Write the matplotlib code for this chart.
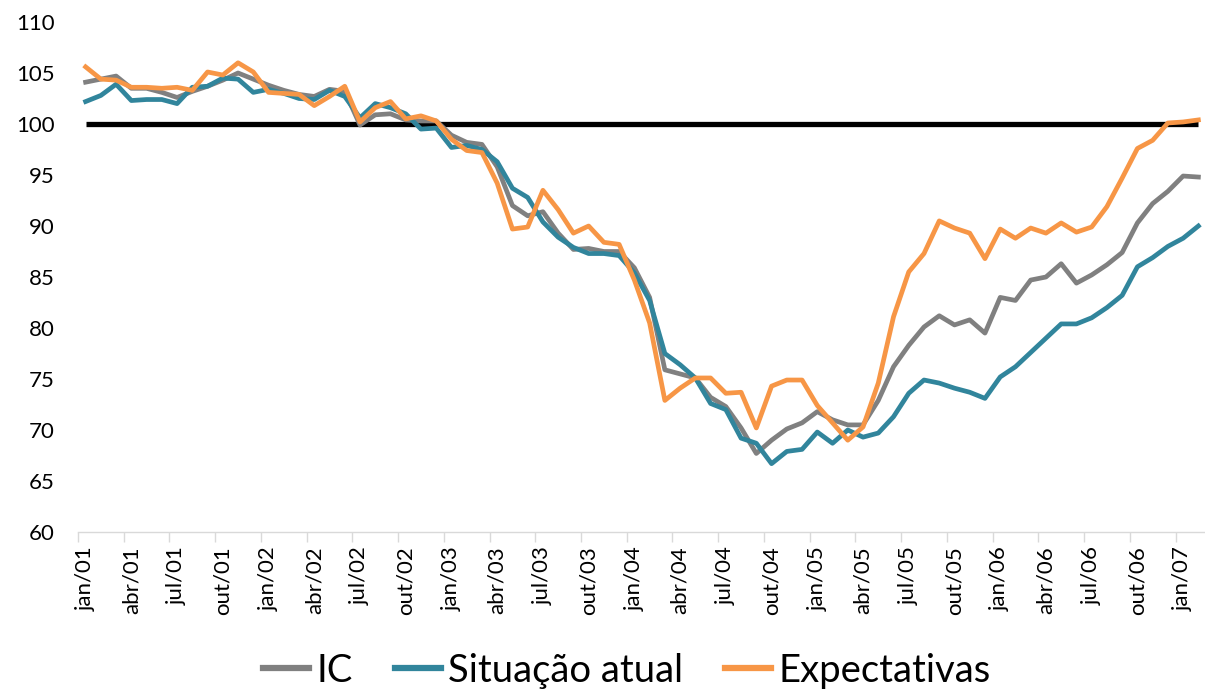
import matplotlib
matplotlib.use("Agg")
import matplotlib.pyplot as plt
from matplotlib.lines import Line2D

months = ["jan", "fev", "mar", "abr", "mai", "jun", "jul", "ago", "set", "out", "nov", "dez"]
categories = [f"{months[i % 12]}/{(1 + i // 12):02d}" for i in range(74)]

ic = [104.1, 104.4, 104.7, 103.5, 103.5, 103.1, 102.6, 103.2, 103.7, 104.3, 105.0, 104.4,
      103.8, 103.3, 102.9, 102.7, 103.4, 103.2, 99.9, 100.9, 101.0, 100.4, 100.3, 100.3,
      98.9, 98.2, 98.0, 95.8, 92.0, 91.0, 91.4, 89.3, 87.7, 87.8, 87.5, 87.5,
      85.9, 83.0, 75.9, 75.5, 75.1, 73.2, 72.3, 70.2, 67.7, 69.0, 70.1, 70.7,
      71.8, 71.0, 70.5, 70.5, 72.9, 76.2, 78.3, 80.1, 81.2, 80.3, 80.8, 79.5,
      83.0, 82.7, 84.7, 85.0, 86.3, 84.4, 85.2, 86.2, 87.4, 90.3, 92.2, 93.4,
      94.9, 94.8]
situacao = [102.2, 102.8, 103.9, 102.3, 102.4, 102.4, 102.0, 103.6, 103.7, 104.5, 104.4, 103.1,
            103.4, 103.0, 102.5, 102.4, 103.3, 102.7, 100.6, 102.0, 101.6, 101.0, 99.5, 99.6,
            97.7, 97.9, 97.5, 96.3, 93.7, 92.8, 90.4, 88.9, 87.9, 87.3, 87.3, 87.1,
            85.4, 82.7, 77.5, 76.4, 75.1, 72.6, 72.0, 69.2, 68.7, 66.7, 67.9, 68.1,
            69.8, 68.7, 70.0, 69.3, 69.7, 71.3, 73.6, 74.9, 74.6, 74.1, 73.7, 73.1,
            75.2, 76.2, 77.6, 79.0, 80.4, 80.4, 81.0, 82.0, 83.2, 86.0, 86.9, 88.0,
            88.8, 90.0]
expectativas = [105.6, 104.4, 104.3, 103.6, 103.6, 103.5, 103.6, 103.3, 105.1, 104.8, 106.0, 105.1,
                103.1, 103.0, 102.9, 101.8, 102.7, 103.7, 100.2, 101.6, 102.2, 100.5, 100.8, 100.3,
                98.5, 97.4, 97.2, 94.2, 89.7, 89.9, 93.5, 91.6, 89.3, 90.0, 88.4, 88.2,
                84.7, 80.5, 72.9, 74.1, 75.1, 75.1, 73.6, 73.7, 70.2, 74.3, 74.9, 74.9,
                72.4, 70.7, 69.0, 70.3, 74.6, 81.1, 85.5, 87.3, 90.5, 89.8, 89.3, 86.8,
                89.7, 88.8, 89.8, 89.3, 90.3, 89.4, 89.9, 91.9, 94.7, 97.6, 98.4, 100.1,
                100.2, 100.4]
referencia = [100.0] * 74

series_names = ["IC", "Situação atual", "Expectativas"]
colors = ["#808080", "#31859C", "#F79646"]
y_ticks = list(range(60, 111, 5))

plt.rcParams['font.family'] = ['Lato', 'DejaVu Sans']

W, H = 1205, 695
fig = plt.figure(figsize=(W / 100, H / 100), dpi=100)
ax = fig.add_axes([78 / W, (H - 532) / H, (1206 - 78) / W, (532 - 22) / H])

x = list(range(len(categories)))
ax.plot(x, referencia, color="black", lw=3.8, solid_capstyle="butt", zorder=1)
ax.plot(x, ic, color=colors[0], lw=3.4, zorder=2)
ax.plot(x, situacao, color=colors[1], lw=3.4, zorder=3)
ax.plot(x, expectativas, color=colors[2], lw=3.4, zorder=4)

ax.set_xlim(-0.5, len(categories) - 0.5)
ax.set_ylim(60, 110)
ax.set_yticks(y_ticks)
ax.set_yticklabels([str(v) for v in y_ticks], fontsize=16)
ax.tick_params(axis="y", length=0, pad=17)

label_pos = x[::3]
ax.set_xticks(label_pos)
ax.set_xticklabels([categories[i] for i in label_pos], rotation=90, fontsize=16)
ax.set_xticks([p - 0.5 for p in label_pos], minor=True)
ax.tick_params(axis="x", which="major", length=0, pad=10)
ax.tick_params(axis="x", which="minor", length=7, width=1, color="#D9D9D9")

for s in ["top", "right", "left"]:
    ax.spines[s].set_visible(False)
ax.spines["bottom"].set_color("#D9D9D9")
ax.spines["bottom"].set_linewidth(1)

handles = [Line2D([0], [0], color=c, lw=4.5) for c in colors]
fig.legend(handles, series_names, loc="center", bbox_to_anchor=(627 / W, 0.035),
           ncol=3, frameon=False, fontsize=27.5, handlelength=1.2, handletextpad=0.2,
           columnspacing=1.1)

fig.savefig("out.png", dpi=100)
